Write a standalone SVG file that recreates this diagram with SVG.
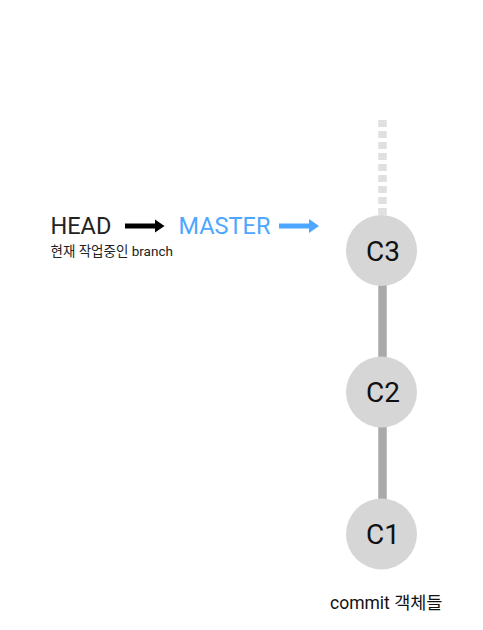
<svg xmlns="http://www.w3.org/2000/svg" width="483" height="630" viewBox="0 0 483 630">
<style>
.commit circle{fill:#d6d6d6}
.commit text{font-family:Roboto,"Liberation Sans",sans-serif;font-size:28px;fill:#111;text-anchor:middle}
.lbl{font-family:Roboto,"Noto Sans CJK KR",sans-serif}
</style>
<rect width="483" height="630" fill="#fff"/>
<g id="connectors">
<line x1="382.5" y1="120" x2="382.5" y2="216" stroke="#e0e0e0" stroke-width="8.5" stroke-dasharray="7 4"/>
<line x1="382.5" y1="284" x2="382.5" y2="358" stroke="#aaaaaa" stroke-width="8.5"/>
<line x1="382.5" y1="426" x2="382.5" y2="500" stroke="#aaaaaa" stroke-width="8.5"/>
<g id="head-arrow">
<line x1="125" y1="226" x2="156" y2="226" stroke="#000" stroke-width="5"/>
<path d="M155,219.5 L164.5,226 L155,232.5 Z" fill="#000"/>
</g>
<g id="master-arrow">
<line x1="279" y1="226" x2="310" y2="226" stroke="#4da6ff" stroke-width="5"/>
<path d="M309,219 L319,226 L309,233 Z" fill="#4da6ff"/>
</g>
</g>
<g id="head">
<text class="lbl" x="50.5" y="234" font-size="23.5" fill="#222">HEAD</text>
<text class="lbl" x="50.5" y="256" font-size="13.5" fill="#222">현재 작업중인 branch</text>
</g>
<g id="master">
<text class="lbl" x="178.5" y="234" font-size="23.5" fill="#4da6ff">MASTER</text>
</g>
<g id="c3" class="commit"><circle cx="381.5" cy="250.5" r="35.5"/><text x="383" y="260.5">C3</text></g>
<g id="c2" class="commit"><circle cx="381.5" cy="392" r="35.5"/><text x="383" y="402">C2</text></g>
<g id="c1" class="commit"><circle cx="381.5" cy="534" r="35.5"/><text x="383" y="544">C1</text></g>
<g id="caption">
<text class="lbl" x="330" y="609" font-size="17.5" fill="#111">commit 객체들</text>
</g>
</svg>
